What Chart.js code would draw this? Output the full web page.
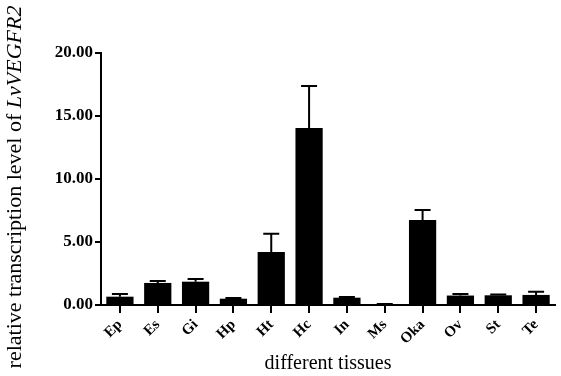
<!DOCTYPE html>
<html lang="en">
<head>
<meta charset="UTF-8">
<title>LvVEGFR2 tissues</title>
<script src="https://cdn.jsdelivr.net/npm/chart.js"></script>
<style>
  body { margin: 0; background: #fff; }
  #wrap { width: 561px; height: 376px; }
</style>
</head>
<body>
<div id="wrap"><canvas id="chart" width="561" height="376"></canvas></div>
<script>
const tissues = ['Ep', 'Es', 'Gi', 'Hp', 'Ht', 'Hc', 'In', 'Ms', 'Oka', 'Ov', 'St', 'Te'];
const levels = [0.66, 1.75, 1.85, 0.50, 4.20, 14.05, 0.58, 0.05, 6.75, 0.75, 0.77, 0.80];
const errors = [0.21, 0.15, 0.21, 0.05, 1.46, 3.33, 0.06, 0.02, 0.79, 0.12, 0.06, 0.25];
const yTicks = [0, 5, 10, 15, 20];

const serif = "'Liberation Serif', 'Times New Roman', serif";

// upper error bars with a cap, placed through the chart scales
const errorBars = {
  id: 'errorBars',
  afterDatasetsDraw(chart) {
    const ctx = chart.ctx;
    const x = chart.scales.x, y = chart.scales.y;
    ctx.save();
    ctx.strokeStyle = '#000';
    ctx.lineWidth = 2;
    levels.forEach((v, i) => {
      const cx = x.getPixelForValue(i);
      const top = y.getPixelForValue(v);
      const end = y.getPixelForValue(v + errors[i]);
      ctx.beginPath();
      ctx.moveTo(cx, top);
      ctx.lineTo(cx, end);
      ctx.moveTo(cx - 8, end);
      ctx.lineTo(cx + 8, end);
      ctx.stroke();
    });
    ctx.restore();
  }
};

// y title with the gene name in italics
const yTitle = {
  id: 'yTitle',
  afterDraw(chart) {
    const ctx = chart.ctx;
    const a = 'relative transcription level of ';
    const b = 'LvVEGFR2';
    const size = 22;
    ctx.save();
    ctx.fillStyle = '#000';
    ctx.textBaseline = 'middle';
    ctx.font = size + 'px ' + serif;
    const wa = ctx.measureText(a).width;
    ctx.font = 'italic ' + size + 'px ' + serif;
    const wb = ctx.measureText(b).width;
    ctx.translate(15, 187);
    ctx.rotate(-Math.PI / 2);
    const start = -(wa + wb) / 2;
    ctx.textAlign = 'left';
    ctx.font = size + 'px ' + serif;
    ctx.fillText(a, start, 0);
    ctx.font = 'italic ' + size + 'px ' + serif;
    ctx.fillText(b, start + wa, 0);
    ctx.restore();
  }
};

new Chart(document.getElementById('chart'), {
  type: 'bar',
  data: {
    labels: tissues,
    datasets: [{
      data: levels,
      backgroundColor: '#000',
      borderWidth: 0,
      barPercentage: 0.72,
      categoryPercentage: 1
    }]
  },
  options: {
    responsive: false,
    animation: false,
    layout: { padding: { top: 53, right: 6, left: 0, bottom: 0 } },
    plugins: { legend: { display: false }, tooltip: { enabled: false } },
    scales: {
      x: {
        grid: { display: true, drawOnChartArea: false, offset: false, color: '#000', lineWidth: 2, tickLength: 8, tickWidth: 2 },
        border: { display: true, color: '#000', width: 2 },
        ticks: {
          color: '#000', minRotation: 45, maxRotation: 45, padding: 3,
          font: { family: serif, size: 15, weight: 'bold' }
        },
        title: {
          display: true, text: 'different tissues', color: '#000',
          font: { family: serif, size: 20 }, padding: { top: 0, bottom: 0 }
        },
        afterFit(scale) { scale.height = 71; }
      },
      y: {
        min: 0, max: 20,
        afterBuildTicks(scale) { scale.ticks = yTicks.map(v => ({ value: v })); },
        grid: { display: true, drawOnChartArea: false, color: '#000', lineWidth: 2, tickLength: 6, tickWidth: 2 },
        border: { display: true, color: '#000', width: 2 },
        ticks: {
          color: '#000', padding: 2,
          font: { family: serif, size: 17, weight: 'bold' },
          callback: v => Number(v).toFixed(2)
        },
        afterFit(scale) { scale.width = 101; }
      }
    }
  },
  plugins: [errorBars, yTitle]
});
</script>
</body>
</html>
